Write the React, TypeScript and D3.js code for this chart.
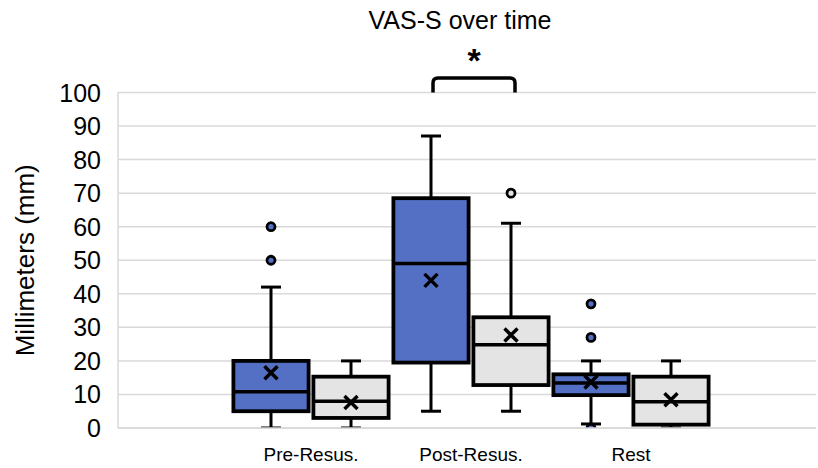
import React from "react";
import * as d3 from "d3";

const categories = ["Pre-Resus.", "Post-Resus.", "Rest"];
const series = ["Blue", "Gray"];
const yTicks = [0, 10, 20, 30, 40, 50, 60, 70, 80, 90, 100];

const blueMin = [0, 5, 1.2];
const blueQ1 = [5, 19.5, 9.8];
const blueMedian = [10.8, 49, 13.4];
const blueQ3 = [20, 68.5, 16];
const blueMax = [42, 87, 20];
const blueMean = [16.5, 44, 13.7];
const blueOutliers = [[50, 60], [], [0, 27, 37]];

const grayMin = [0, 5, 0];
const grayQ1 = [3, 12.8, 1];
const grayMedian = [8, 24.8, 7.8];
const grayQ3 = [15.3, 33, 15.3];
const grayMax = [20, 61, 20];
const grayMean = [7.6, 27.7, 8.4];
const grayOutliers = [[], [70], []];

const W = 818;
const H = 468;
const FONT = "'Liberation Sans', Arial, sans-serif";

export default function App() {
  const plotLeft = 118;
  const plotRight = 816;
  const plotTop = 92.5;
  const plotBottom = 428;

  const y = d3.scaleLinear().domain([0, 100]).range([plotBottom, plotTop]);
  const x = d3.scaleBand().domain(categories).range([231, 711]).padding(0);
  const sub = d3.scaleBand().domain(series).range([0, x.bandwidth()]).paddingInner(0.06).paddingOuter(0.03);

  const fills = ["#5470C4", "#E4E4E4"];
  const stats = [
    { min: blueMin, q1: blueQ1, med: blueMedian, q3: blueQ3, max: blueMax, mean: blueMean, out: blueOutliers },
    { min: grayMin, q1: grayQ1, med: grayMedian, q3: grayQ3, max: grayMax, mean: grayMean, out: grayOutliers },
  ];

  const boxes: any[] = [];
  categories.forEach((c, ci) => {
    series.forEach((s, si) => {
      const st = stats[si];
      const x0 = (x(c) as number) + (sub(s) as number);
      const bw = sub.bandwidth();
      boxes.push({
        key: c + s,
        x0,
        bw,
        cx: x0 + bw / 2,
        fill: fills[si],
        min: st.min[ci],
        q1: st.q1[ci],
        med: st.med[ci],
        q3: st.q3[ci],
        max: st.max[ci],
        mean: st.mean[ci],
        out: st.out[ci],
      });
    });
  });

  const capW = 20;
  const m = 6.5;

  const postBlue = boxes[2];
  const postGray = boxes[3];
  const bx1 = postBlue.cx + 2;
  const bx2 = postGray.cx + 4;
  const bTop = 78;
  const bBot = y(100);
  const r = 5;
  const bracket = `M${bx1},${bBot} L${bx1},${bTop + r} Q${bx1},${bTop} ${bx1 + r},${bTop} L${bx2 - r},${bTop} Q${bx2},${bTop} ${bx2},${bTop + r} L${bx2},${bBot}`;

  return (
    <svg width={W} height={H} style={{ position: "absolute", left: 0, top: 0, background: "#fff" }} fontFamily={FONT}>
      <defs>
        <clipPath id="plotClip">
          <rect x={plotLeft} y={plotTop - 40} width={plotRight - plotLeft} height={plotBottom - plotTop + 40} />
        </clipPath>
      </defs>
      <rect width={W} height={H} fill="#fff" />
      <text x={460} y={29} textAnchor="middle" fontSize={25} fill="#000">VAS-S over time</text>

      {yTicks.map((t) => (
        <g key={t}>
          <line x1={plotLeft} x2={plotRight} y1={y(t)} y2={y(t)} stroke="#D9D9D9" strokeWidth={1.5} />
          <text x={101} y={y(t)} dy="0.36em" textAnchor="end" fontSize={25} fill="#000">{t}</text>
        </g>
      ))}
      <line x1={plotLeft} x2={plotLeft} y1={plotTop} y2={plotBottom} stroke="#D9D9D9" strokeWidth={1.5} />

      <text transform={`translate(34,${(plotTop + plotBottom) / 2}) rotate(-90)`} textAnchor="middle" fontSize={26} fill="#000">Millimeters (mm)</text>

      {categories.map((c) => (
        <text key={c} x={(x(c) as number) + x.bandwidth() / 2} y={461} textAnchor="middle" fontSize={19} fill="#000">{c}</text>
      ))}

      <g clipPath="url(#plotClip)">
        {boxes.map((b) => (
          <g key={b.key}>
            {b.out.map((o: number, i: number) => (
              <circle key={i} cx={b.cx} cy={y(o)} r={4} fill={b.fill} stroke="#000" strokeWidth={2.8} />
            ))}
            <line x1={b.cx} x2={b.cx} y1={y(b.max)} y2={y(b.q3)} stroke="#000" strokeWidth={3} />
            <line x1={b.cx} x2={b.cx} y1={y(b.q1)} y2={y(b.min)} stroke="#000" strokeWidth={3} />
            <line x1={b.cx - capW / 2} x2={b.cx + capW / 2} y1={y(b.max)} y2={y(b.max)} stroke="#000" strokeWidth={3} />
            <line x1={b.cx - capW / 2} x2={b.cx + capW / 2} y1={y(b.min)} y2={y(b.min)} stroke="#000" strokeWidth={3} />
            <rect x={b.x0} y={y(b.q3)} width={b.bw} height={y(b.q1) - y(b.q3)} fill={b.fill} stroke="#000" strokeWidth={3.8} />
            <line x1={b.x0} x2={b.x0 + b.bw} y1={y(b.med)} y2={y(b.med)} stroke="#000" strokeWidth={3.5} />
            <path d={`M${b.cx - m},${y(b.mean) - m} L${b.cx + m},${y(b.mean) + m} M${b.cx - m},${y(b.mean) + m} L${b.cx + m},${y(b.mean) - m}`} stroke="#000" strokeWidth={3.5} fill="none" />
          </g>
        ))}
      </g>
      <line x1={plotLeft} x2={plotRight} y1={plotBottom} y2={plotBottom} stroke="#D9D9D9" strokeWidth={1.5} />

      <path d={bracket} fill="none" stroke="#000" strokeWidth={3.5} />
      <text x={(bx1 + bx2) / 2} y={72} textAnchor="middle" fontSize={34} fontWeight="bold" fill="#000">*</text>
    </svg>
  );
}
